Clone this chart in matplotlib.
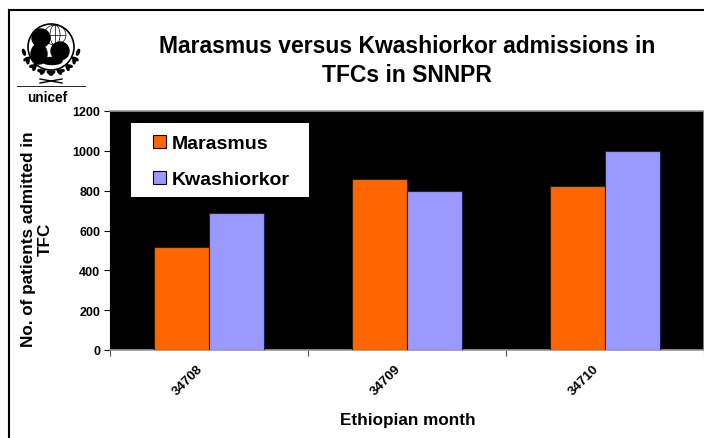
import matplotlib.pyplot as plt
import numpy as np
from matplotlib.lines import Line2D
from matplotlib.patches import Circle, Ellipse, Rectangle
from matplotlib.transforms import ScaledTranslation

plt.rcParams['font.family'] = ['Liberation Sans', 'DejaVu Sans']
plt.rcParams['font.weight'] = 'bold'

# data
months = ['34708', '34709', '34710']
marasmus = [516, 859, 822]
kwashiorkor = [690, 797, 998]
series_names = ['Marasmus', 'Kwashiorkor']
yticks = [0, 200, 400, 600, 800, 1000, 1200]

W, H = 704, 439
fig = plt.figure(figsize=(W / 100, H / 100), dpi=100)

def fx(px):
    return px / W

def fy(py):
    return 1 - py / H

# plot area: left 110, top 112, bottom 351, right edge of image
ax = fig.add_axes([fx(110), fy(351), fx(W - 110), (351 - 112) / H])
ax.set_facecolor('black')

x = np.arange(len(months))
bw = 55 / 198
ax.bar(x - bw / 2, marasmus, bw, color='#FF6600', edgecolor='#3a1a00', linewidth=0.8,
       label=series_names[0], zorder=3)
ax.bar(x + bw / 2, kwashiorkor, bw, color='#9999FF', edgecolor='#202050', linewidth=0.8,
       label=series_names[1], zorder=3)

ax.set_xlim(-0.5, 2.5)
ax.set_ylim(0, 1200)
ax.set_yticks(yticks)
ax.set_yticklabels([str(v) for v in yticks], fontsize=9, fontweight='bold')
ax.tick_params(axis='y', length=4, width=0.8, pad=3, direction='out')

ax.set_xticks(x)
ax.set_xticklabels(months, rotation=45, ha='right', va='center',
                   rotation_mode='anchor', fontsize=9.5, fontweight='bold')
ax.tick_params(axis='x', which='major', length=0, pad=12)
shift = ScaledTranslation(-8 / 100, 0, fig.dpi_scale_trans)
for lbl in ax.get_xticklabels():
    lbl.set_transform(lbl.get_transform() + shift)
ax.set_xticks(np.arange(-0.5, 3.0, 1.0), minor=True)
ax.tick_params(axis='x', which='minor', length=4, width=0.8, color='#555555')

for side in ['top', 'right', 'bottom']:
    ax.spines[side].set_color('#999999')
    ax.spines[side].set_linewidth(1.2)
ax.spines['left'].set_color('black')

# legend: white box drawn separately, entries without frame on top of it
ax.add_patch(Rectangle((fx(131), fy(198)), fx(309 - 131), (198 - 124) / H,
                       transform=fig.transFigure, facecolor='white', edgecolor='none',
                       zorder=5, clip_on=False))
leg = ax.legend(loc='upper left', bbox_to_anchor=(fx(153), fy(136)),
                bbox_transform=fig.transFigure, fontsize=14, frameon=False,
                handlelength=0.67, handleheight=0.67, handletextpad=0.3,
                labelspacing=0.95, borderpad=0, borderaxespad=0)
leg.set_zorder(6)
for t in leg.get_texts():
    t.set_fontweight('bold')
for p in leg.legend_handles:
    p.set_edgecolor('black')
    p.set_linewidth(0.8)

# title and axis labels
fig.text(fx(407), fy(53), 'Marasmus versus Kwashiorkor admissions in',
         ha='center', va='baseline', fontsize=16.5, fontweight='bold')
fig.text(fx(407), fy(82), 'TFCs in SNNPR',
         ha='center', va='baseline', fontsize=16.5, fontweight='bold')
fig.text(fx(408), fy(421), 'Ethiopian month', ha='center', va='center',
         fontsize=12.3, fontweight='bold')
fig.text(fx(37), fy(239), 'No. of patients admitted in\nTFC', ha='center', va='center',
         rotation=90, fontsize=12.3, fontweight='bold', linespacing=1.15)

# frame around the slide (left and top edges visible)
fig.add_artist(Line2D([fx(8.5), fx(8.5)], [0, fy(10.5)], transform=fig.transFigure,
                      color='black', linewidth=1.5))
fig.add_artist(Line2D([fx(8.5), 1], [fy(10.5), fy(10.5)], transform=fig.transFigure,
                      color='black', linewidth=1.5))

# rough unicef emblem, drawn in pixel coordinates
lax = fig.add_axes([fx(14), fy(88), fx(74), 74 / H])
lax.set_xlim(14, 88)
lax.set_ylim(88, 14)
lax.set_aspect('equal')
lax.axis('off')
lax.add_patch(Circle((51, 48), 23, fill=False, lw=1.2, color='black'))
# globe lines
lax.add_patch(Ellipse((55, 36), 22, 20, fill=False, lw=0.5, color='black'))
lax.add_patch(Ellipse((55, 36), 10, 20, fill=False, lw=0.5, color='black'))
lax.plot([45, 65], [36, 36], color='black', lw=0.5)
lax.plot([55, 55], [26, 46], color='black', lw=0.5)
# mother and child
lax.add_patch(Circle((41, 39), 9, color='black'))
lax.add_patch(Ellipse((39, 55), 16, 20, color='black'))
lax.add_patch(Circle((60, 52), 9, color='black'))
lax.add_patch(Ellipse((52, 62), 20, 7, color='black'))
# wreath leaves
for ang in np.linspace(15, 150, 8):
    a = np.deg2rad(ang)
    for sgn in [-1, 1]:
        lax.add_patch(Ellipse((51 + sgn * 28 * np.cos(a), 48 + 28 * np.sin(a) - 2), 6, 2.4,
                              angle=-sgn * (ang + 90) + 35 * sgn, color='black'))
lax.plot([40, 62], [80, 84], color='black', lw=1)
lax.plot([40, 62], [84, 80], color='black', lw=1)

fig.add_artist(Line2D([fx(17), fx(85)], [fy(87), fy(87)], transform=fig.transFigure,
                      color='black', linewidth=0.6))
fig.text(fx(27), fy(98), 'unicef', ha='left', va='center', fontsize=9.8, fontweight='bold')

fig.savefig('out.png', dpi=100)
